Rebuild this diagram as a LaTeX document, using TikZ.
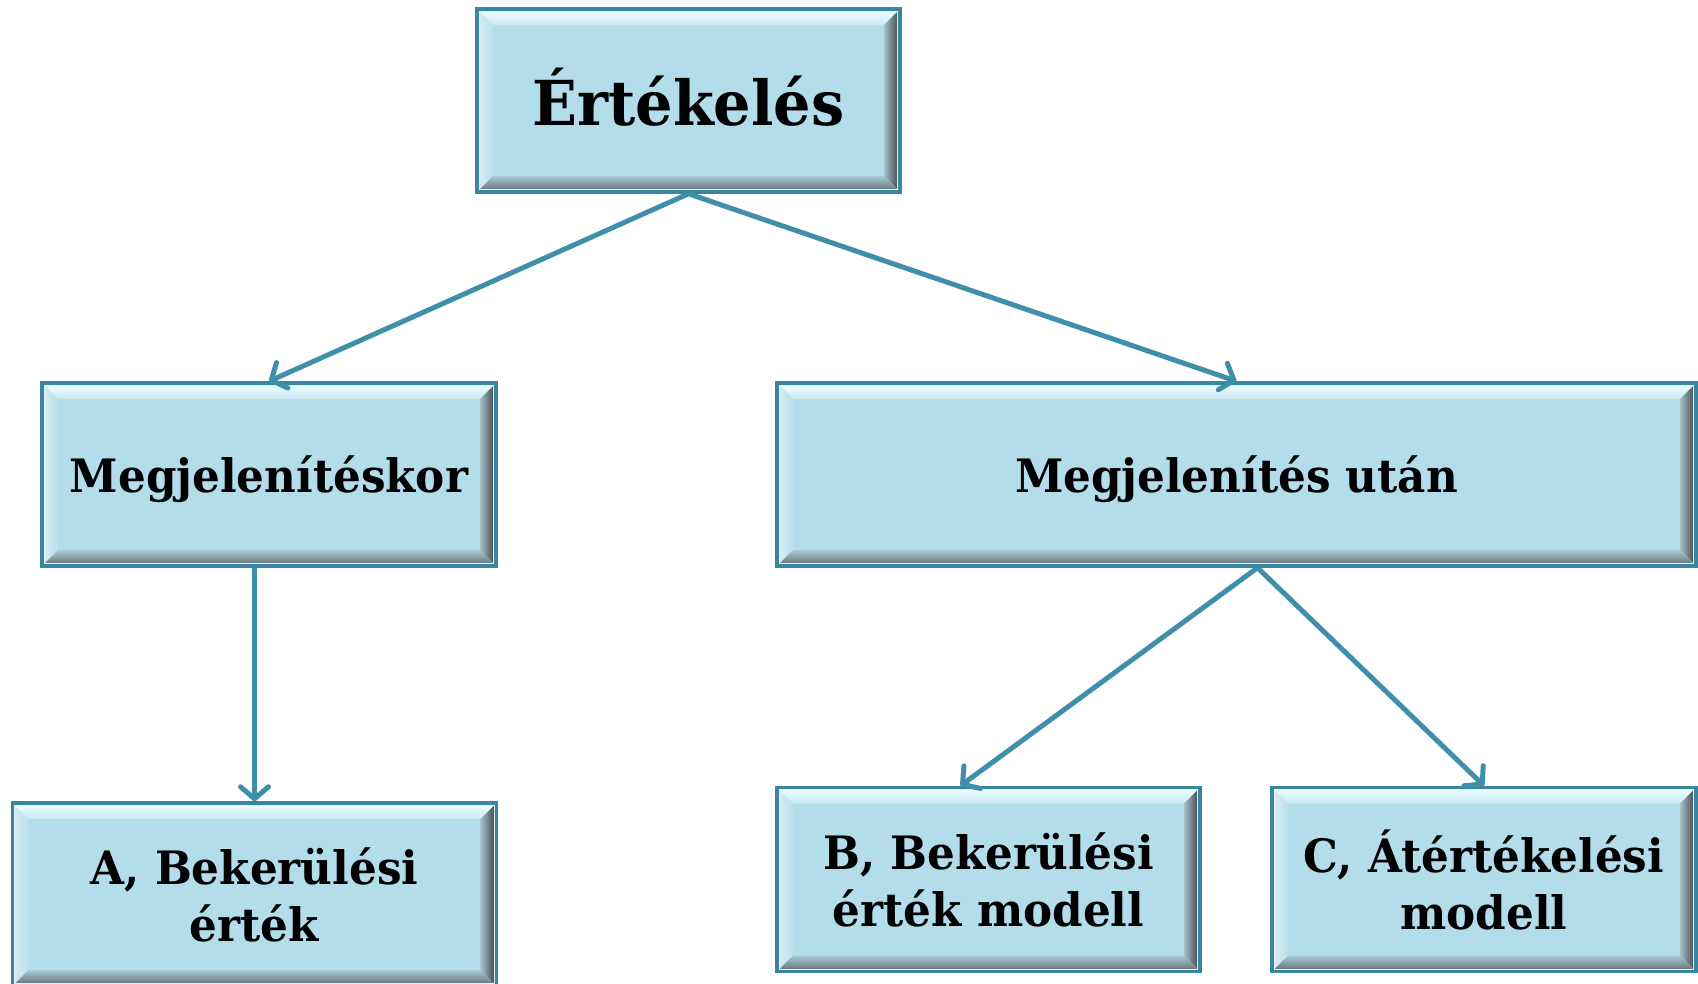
\documentclass[tikz,border=0pt]{standalone}
\usepackage{fontspec}
\setmainfont{DejaVu Serif}[FakeStretch=0.95]
\usetikzlibrary{arrows.meta,calc}
\definecolor{facec}{HTML}{B3DDEB}
\definecolor{bordc}{HTML}{3A86A2}
\definecolor{arrc}{HTML}{3F8FAA}
\tikzset{
  bevbox/.style={draw=bordc, line width=3.5pt, fill=facec, inner sep=0pt,
    align=center, font=\bfseries\fontsize{46}{57}\selectfont,
    path picture={
      \path let \p1=(path picture bounding box.north west),
                \p2=(path picture bounding box.south east) in
        coordinate (o1) at (\x1+2pt,\y1-2pt)
        coordinate (o2) at (\x2-2pt,\y1-2pt)
        coordinate (o3) at (\x2-2pt,\y2+2pt)
        coordinate (o4) at (\x1+2pt,\y2+2pt)
        coordinate (i1) at (\x1+16pt,\y1-16pt)
        coordinate (i2) at (\x2-16pt,\y1-16pt)
        coordinate (i3) at (\x2-16pt,\y2+16pt)
        coordinate (i4) at (\x1+16pt,\y2+16pt);
      \shade[top color=white!60!cyan!20, bottom color=facec!70!white] (o1) -- (o2) -- (i2) -- (i1) -- cycle;
      \shade[left color=facec!55!white, right color=facec!90!white] (o1) -- (i1) -- (i4) -- (o4) -- cycle;
      \shade[left color=facec!70!gray, right color=facec!25!black!70!gray] (o2) -- (i2) -- (i3) -- (o3) -- cycle;
      \shade[top color=facec!80!gray, bottom color=facec!50!black!60!gray] (o4) -- (i4) -- (i3) -- (o3) -- cycle;
      \draw[white!60!facec, line width=1.2pt] (o1) rectangle (o3);
    }},
  conn/.style={draw=arrc, line width=5pt,
    -{Straight Barb[length=12pt,width=28pt,line width=5pt,round]}}
}
\begin{document}
\begin{tikzpicture}[x=1pt,y=-1pt]
\useasboundingbox (0,0) rectangle (1698,983);
\node[bevbox, minimum width=423pt, minimum height=183pt, font=\bfseries\fontsize{62}{70}\selectfont]
  (T) at (688.5,100.5) {\raisebox{3pt}[\height][\depth]{Értékelés}};
\node[bevbox, minimum width=454pt, minimum height=183pt] (M) at (269,474.5) {\raisebox{-5pt}[\height][\depth]{Megjelenítéskor}};
\node[bevbox, minimum width=919pt, minimum height=183pt] (U) at (1236.5,474.5) {\raisebox{-5pt}[\height][\depth]{Megjelenítés után}};
\node[bevbox, minimum width=484pt, minimum height=183pt] (A) at (254.5,894.5) {A, Bekerülési\\érték};
\node[bevbox, minimum width=423pt, minimum height=184pt] (B) at (988.5,879.5) {B, Bekerülési\\érték modell};
\node[bevbox, minimum width=424pt, minimum height=184pt] (C) at (1484,879.5) {C, Átértékelési\\modell};
\draw[conn] (T.south) -- (M.north);
\draw[conn] (T.south) -- (U.north);
\draw[conn] (A.north |- M.south) -- (A.north);
\coordinate (Ub) at ([xshift=21pt]U.south);
\draw[conn] (Ub) -- ([xshift=-28pt]B.north);
\draw[conn] (Ub) -- (C.north);
\end{tikzpicture}
\end{document}
